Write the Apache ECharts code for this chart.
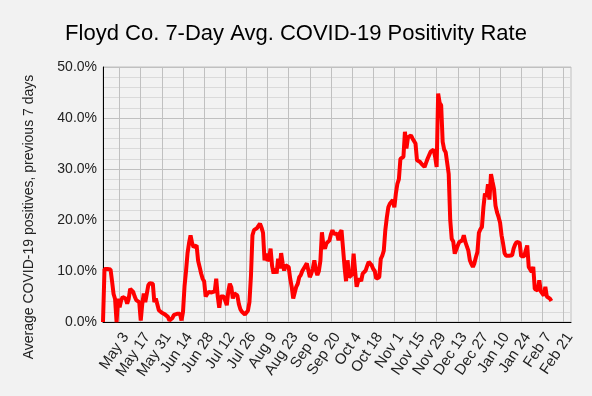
<!DOCTYPE html>
<html>
<head>
<meta charset="utf-8">
<script src="https://cdn.jsdelivr.net/npm/echarts@6/dist/echarts.min.js"></script>
<style>
  html, body { margin: 0; padding: 0; background: #f2f2f2; }
  #chart { width: 592px; height: 396px; }
</style>
</head>
<body>
<div id="chart"></div>
<script>
// daily categories, Apr 22 2020 -> Feb 26 2021
const monthNames = ['Jan', 'Feb', 'Mar', 'Apr', 'May', 'Jun', 'Jul', 'Aug', 'Sep', 'Oct', 'Nov', 'Dec'];
const dayCount = 311;
const days = [];
for (let i = 0; i < dayCount; i++) {
  const d = new Date(2020, 3, 22 + i);
  days.push(monthNames[d.getMonth()] + ' ' + d.getDate());
}

const tickLabels = ['May 3', 'May 17', 'May 31', 'Jun 14', 'Jun 28', 'Jul 12', 'Jul 26', 'Aug 9', 'Aug 23',
  'Sep 6', 'Sep 20', 'Oct 4', 'Oct 18', 'Nov 1', 'Nov 15', 'Nov 29', 'Dec 13', 'Dec 27', 'Jan 10',
  'Jan 24', 'Feb 7', 'Feb 21'];

const yTicks = [0, 10, 20, 30, 40, 50];

// 7-day avg positivity (%), one value per day from Apr 22
const positivity = [
  0, 10.4, 10.4, 10.4, 10.4, 10.3, 8.0, 5.5, 4.5, 0,
  4.6, 2.9, 4.2, 4.9, 4.7, 4.6, 3.6, 4.5, 6.5, 6.2,
  5.9, 5.0, 4.3, 4.1, 3.9, 0.3, 3.5, 5.6, 3.9, 5.5,
  7.2, 7.6, 7.8, 7.5, 3.9, 4.6, 4.9, 2.3, 2.0, 1.8,
  1.6, 1.5, 1.3, 1.0, 0.3, 0, 0.8, 1.4, 1.5, 1.6,
  1.6, 1.6, 0.3, 2.0, 7.0, 10.0, 13.5, 15.5, 17.0, 15.5,
  14.7, 14.8, 15.0, 12.0, 10.8, 9.5, 8.5, 8.0, 5.0, 5.5,
  5.9, 5.9, 5.8, 5.9, 6.0, 8.5, 5.0, 2.8, 5.0, 5.2,
  5.0, 5.2, 3.3, 6.0, 7.5, 6.8, 4.6, 5.6, 5.4, 5.2,
  3.5, 2.5, 2.0, 1.7, 1.5, 1.7, 2.2, 3.9, 9.0, 17.0,
  18.0, 18.2, 18.4, 18.3, 19.3, 18.5, 17.5, 12.1, 13.4, 12.0,
  12.4, 14.4, 11.0, 9.5, 10.5, 9.5, 12.4, 10.5, 13.5, 11.5,
  10.1, 11.1, 10.9, 10.8, 8.5, 6.9, 4.6, 4.8, 6.9, 7.5,
  8.8, 9.2, 10.0, 10.5, 11.0, 11.5, 11.3, 8.8, 9.5, 10.5,
  12.1, 10.1, 9.2, 10.0, 12.0, 17.6, 15.0, 14.4, 15.4, 15.2,
  16.0, 17.2, 18.0, 17.3, 17.3, 17.3, 16.0, 17.5, 18.0, 18.3,
  10.8, 8.0, 12.1, 8.8, 9.0, 9.3, 13.4, 10.0, 6.9, 8.0,
  8.5, 8.0, 9.5, 9.8, 10.1, 11.0, 11.8, 11.5, 11.1, 10.4,
  10.0, 8.5, 8.6, 8.8, 12.4, 13.0, 14.0, 18.0, 20.5, 22.5,
  23.2, 23.5, 23.9, 22.5, 25.2, 27.1, 28.0, 32.0, 32.2, 32.4,
  37.3, 34.0, 36.2, 36.4, 36.6, 36.0, 35.7, 35.0, 31.7, 31.5,
  31.4, 31.0, 30.7, 30.4, 31.2, 32.0, 32.7, 33.4, 33.7, 33.8,
  32.4, 30.4, 44.8, 43.0, 42.5, 35.3, 33.8, 33.3, 33.0, 29.0,
  20.0, 16.3, 15.8, 13.4, 14.2, 15.0, 15.7, 15.9, 16.0, 17.0,
  15.7, 15.8, 14.0, 12.1, 11.4, 10.8, 11.5, 12.7, 13.7, 17.5,
  18.2, 18.6, 22.5, 25.2, 24.5, 27.0, 24.0, 29.0, 27.5, 26.1,
  22.8, 21.5, 20.6, 19.5, 17.0, 15.4, 13.5, 13.0, 12.9, 13.0,
  13.0, 13.1, 14.4, 15.2, 15.7, 15.6, 15.5, 12.9, 12.7, 12.9,
  14.0, 15.0, 10.8, 10.3, 9.8, 10.8, 6.5, 6.3, 6.2, 8.2,
  6.0, 5.9, 5.2, 6.9, 5.0, 4.8, 4.6, 4.1
];

const chart = echarts.init(document.getElementById('chart'));
const isTick = (index, value) => tickLabels.includes(value);

chart.setOption({
  backgroundColor: '#f2f2f2',
  textStyle: { fontFamily: 'Liberation Sans' },
  title: {
    text: 'Floyd Co. 7-Day Avg. COVID-19 Positivity Rate',
    left: 'center',
    top: 18,
    textStyle: { fontSize: 22, fontWeight: 'normal', color: '#000', fontFamily: 'Liberation Sans' },
  },
  // y axis title sits a bit below the plot's middle in the original
  graphic: [
    {
      type: 'text',
      x: 29,
      y: 217,
      rotation: Math.PI / 2,
      style: {
        text: 'Average COVID-19 positives, previous 7 days',
        fontSize: 14,
        fontFamily: 'Liberation Sans',
        fill: '#222',
        textAlign: 'center',
        textVerticalAlign: 'middle',
      },
    },
  ],
  grid: {
    left: 103,
    right: 21,
    top: 67,
    bottom: 74,
    show: true,
    borderColor: '#c0c0c0',
    borderWidth: 1,
  },
  xAxis: {
    type: 'category',
    data: days,
    boundaryGap: false,
    axisLine: { lineStyle: { color: '#000', width: 1 } },
    axisTick: { show: false },
    axisLabel: {
      interval: isTick,
      rotate: 56,
      fontSize: 15,
      color: '#222',
      margin: 8,
      verticalAlign: 'top',
    },
    splitLine: {
      show: true,
      interval: isTick,
      lineStyle: { color: '#c0c0c0', width: 1 },
    },
  },
  yAxis: {
    type: 'value',
    min: yTicks[0],
    max: yTicks[yTicks.length - 1],
    interval: 10,
    axisLine: { show: true, lineStyle: { color: '#000', width: 1 } },
    axisTick: { show: false },
    axisLabel: {
      fontSize: 14,
      color: '#222',
      margin: 6,
      formatter: (v) => v.toFixed(1) + '%',
    },
    splitLine: { lineStyle: { color: '#c0c0c0' } },
    minorTick: { show: false, splitNumber: 5 },
    minorSplitLine: { show: true, lineStyle: { color: '#dadada' } },
  },
  series: [
    {
      type: 'line',
      data: positivity,
      showSymbol: false,
      lineStyle: { color: '#ff0000', width: 4 },
      itemStyle: { color: '#ff0000' },
      animation: false,
    },
  ],
});
</script>
</body>
</html>
